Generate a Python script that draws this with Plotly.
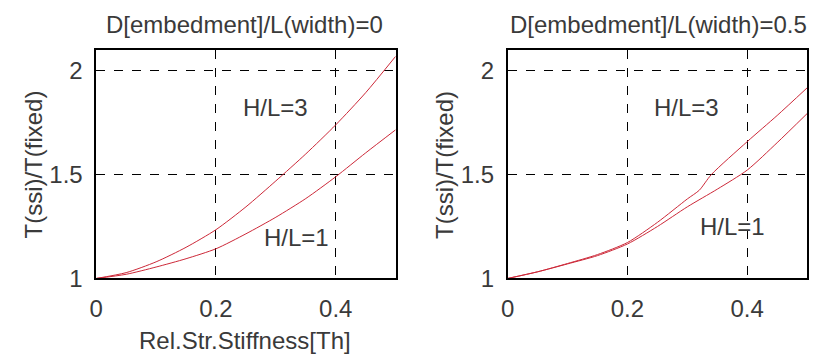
import plotly.graph_objects as go

left_x = [0, 0.05, 0.1, 0.15, 0.2, 0.25, 0.3, 0.35, 0.4, 0.45, 0.5]
left_hl3 = [1.0, 1.028, 1.08, 1.15, 1.235, 1.345, 1.47, 1.6, 1.74, 1.895, 2.07]
left_hl1 = [1.0, 1.02, 1.055, 1.095, 1.143, 1.215, 1.295, 1.385, 1.49, 1.605, 1.716]
right_x3 = [0, 0.05, 0.1, 0.15, 0.2, 0.25, 0.3, 0.32, 0.34, 0.4, 0.45, 0.5]
right_hl3 = [1.0, 1.032, 1.072, 1.115, 1.173, 1.27, 1.383, 1.425, 1.5, 1.659, 1.785, 1.918]
right_x1 = [0, 0.05, 0.1, 0.15, 0.2, 0.25, 0.3, 0.35, 0.4, 0.45, 0.5]
right_hl1 = [1.0, 1.032, 1.07, 1.11, 1.166, 1.25, 1.345, 1.43, 1.522, 1.654, 1.794]

titles = ["D[embedment]/L(width)=0", "D[embedment]/L(width)=0.5"]
ylabel = "T(ssi)/T(fixed)"
xlabel = "Rel.Str.Stiffness[Th]"
x_ticks = [0, 0.2, 0.4]
x_ticktext = ["0", "0.2", "0.4"]
y_ticks = [1, 1.5, 2]
y_ticktext = ["1", "1.5", "2"]

FONT = "Liberation Sans, Arial, sans-serif"
FS = 24
TXT = "#3a3a3a"
RED = "#cc2838"

fig = go.Figure()
for xa, ya, xs, ys in [("x", "y", left_x, left_hl3), ("x", "y", left_x, left_hl1),
                       ("x2", "y2", right_x3, right_hl3), ("x2", "y2", right_x1, right_hl1)]:
    fig.add_trace(go.Scatter(x=xs, y=ys, mode="lines", xaxis=xa, yaxis=ya,
                             line=dict(color=RED, width=1, shape="spline", smoothing=0.7),
                             showlegend=False))

dom_y = [(356 - 289) / 356, (356 - 52) / 356]
axis_common = dict(showline=True, mirror=True, linecolor="black", linewidth=1.5,
                   showgrid=True, gridcolor="black", griddash="dash", gridwidth=1,
                   zeroline=False, ticks="", tickfont=dict(family=FONT, size=FS, color=TXT))
fig.update_layout(
    width=817, height=356, margin=dict(l=0, r=0, t=0, b=0),
    paper_bgcolor="white", plot_bgcolor="white",
    xaxis=dict(domain=[90 / 817, 392 / 817], range=[0, 0.5], tickvals=x_ticks,
               ticktext=x_ticktext, ticklabelstandoff=8, anchor="y", **axis_common),
    yaxis=dict(domain=dom_y, range=[1, 2.1], tickvals=y_ticks, ticktext=y_ticktext,
               ticklabelstandoff=7, anchor="x", **axis_common),
    xaxis2=dict(domain=[505 / 817, 807 / 817], range=[0, 0.5], tickvals=x_ticks,
                ticktext=x_ticktext, ticklabelstandoff=8, anchor="y2", **axis_common),
    yaxis2=dict(domain=dom_y, range=[1, 2.1], tickvals=y_ticks, ticktext=y_ticktext,
                ticklabelstandoff=7, anchor="x2", **axis_common),
)

ann = []
for cx, t in [(240 / 817, titles[0]), (657 / 817, titles[1])]:
    ann.append(dict(x=cx, y=1 - 25 / 356, xref="paper", yref="paper", text=t, showarrow=False,
                    font=dict(family=FONT, size=FS, color=TXT), xanchor="center", yanchor="middle"))
for cx in (27 / 817, 442 / 817):
    ann.append(dict(x=cx, y=1 - 171 / 356, xref="paper", yref="paper", text=ylabel, textangle=-90,
                    showarrow=False, font=dict(family=FONT, size=FS, color=TXT),
                    xanchor="center", yanchor="middle"))
ann.append(dict(x=240 / 817, y=-0.037, xref="paper", yref="paper", text=xlabel,
                showarrow=False, font=dict(family=FONT, size=FS, color=TXT),
                xanchor="center", yanchor="bottom"))
for xr, yr, x, y, t in [("x", "y", 0.299, 1.823, "H/L=3"), ("x", "y", 0.335, 1.197, "H/L=1"),
                        ("x2", "y2", 0.298, 1.823, "H/L=3"), ("x2", "y2", 0.375, 1.251, "H/L=1")]:
    ann.append(dict(x=x, y=y, xref=xr, yref=yr, text=t, showarrow=False,
                    font=dict(family=FONT, size=FS, color=TXT), xanchor="center", yanchor="middle"))
fig.update_layout(annotations=ann)

fig.write_html("out.html")
